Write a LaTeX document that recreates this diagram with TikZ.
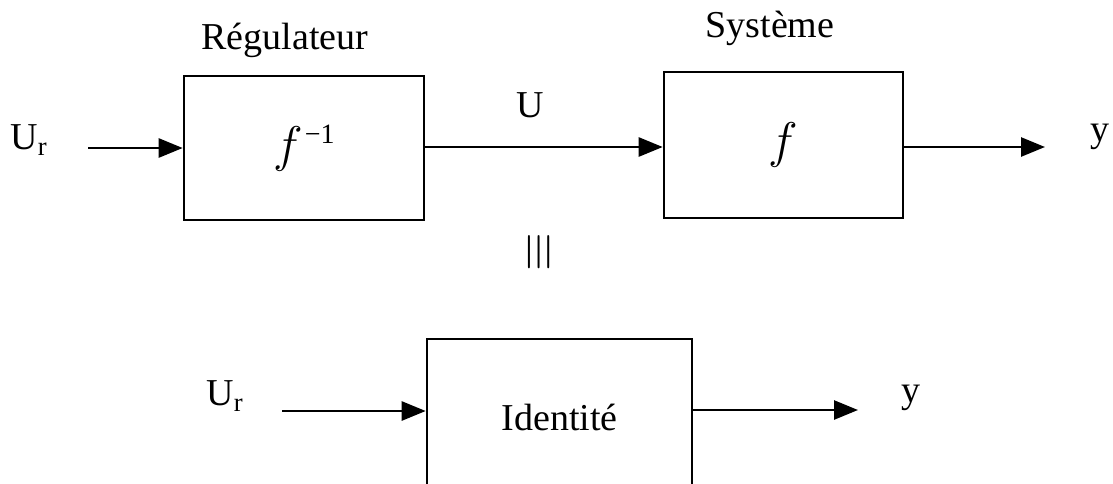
\documentclass[tikz,border=0pt]{standalone}
\usepackage{fontspec}
\setmainfont{Liberation Serif}
\usetikzlibrary{arrows.meta}
\tikzset{
  blockbox/.style={draw, line width=1.3pt, minimum width=#1, inner sep=0pt, font=\fontsize{19}{22}\selectfont},
  lbl/.style={inner sep=0pt, font=\fontsize{19}{22}\selectfont},
  arr/.style={line width=1.3pt, -{Triangle[length=12pt,width=9.5pt]}}
}
\begin{document}
\begin{tikzpicture}[x=0.5pt,y=-0.5pt]
\useasboundingbox (0,0) rectangle (1113,483);
% top row
\node[blockbox=120pt, minimum height=72pt] (reg) at (304,148) {\raisebox{-5pt}{\scalebox{1.45}{$f$}\kern1pt\raisebox{9pt}{\fontsize{14}{16}\selectfont −1}}};
\node[blockbox=119.5pt, minimum height=73pt] (sys) at (783.5,145) {\raisebox{-5pt}{\scalebox{1.45}{$f$}}};
\node[lbl] (regl) at (285,40) {Régulateur};
\node[lbl] (sysl) at (770,28) {Système};
\node[lbl] (ur1) at (29,140) {U\textsubscript{r}};
\node[lbl] (ul) at (530,105) {U};
\node[lbl] (y1) at (1100,137) {y};
\coordinate (in1) at (88,148);
\coordinate (out1) at (1045,147);
\draw[arr] (in1) -- (in1 -| reg.west);
\draw[arr] (reg.east |- 0,147) -- (sys.west |- 0,147);
\draw[arr] (sys.east |- out1) -- (out1);
% equivalence
\node[inner sep=0pt, rotate=90, font=\fontsize{31}{34}\selectfont] (eq) at (540,252) {$\equiv$};
% bottom row
\node[blockbox=132.5pt, minimum height=78pt] (id) at (559.5,417) {Identité};
\node[lbl] (ur2) at (225,396) {U\textsubscript{r}};
\node[lbl] (y2) at (911,398) {y};
\coordinate (in2) at (282,411);
\coordinate (out2) at (858,410);
\draw[arr] (in2) -- (in2 -| id.west);
\draw[arr] (id.east |- out2) -- (out2);
\end{tikzpicture}
\end{document}
